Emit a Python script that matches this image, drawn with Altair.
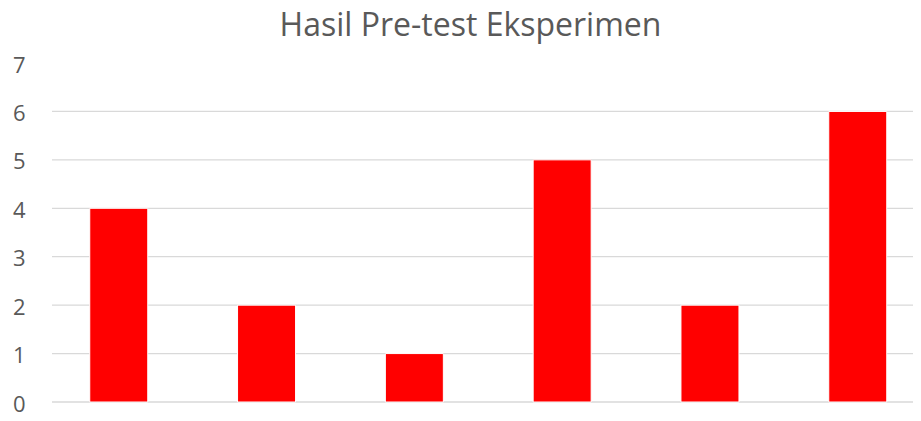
import altair as alt
import pandas as pd

categories = ["1", "2", "3", "4", "5", "6"]
values = [4, 2, 1, 5, 2, 6]
grid_levels = [0, 1, 2, 3, 4, 5, 6]
tick_values = [0, 1, 2, 3, 4, 5, 6, 7]

bars_df = pd.DataFrame({"cat": categories, "value": values})
grid_df = pd.DataFrame({"v": grid_levels})

yscale = alt.Scale(domain=[0, 7], nice=False)
yaxis = alt.Axis(values=tick_values, grid=False, domain=False, ticks=False,
                 labelPadding=27, labelFontSize=22, labelColor="#595959",
                 labelFont="Open Sans", labelOffset=2, title=None)

grid = alt.Chart(grid_df).mark_rule(color="#d9d9d9", strokeWidth=1.3).encode(
    y=alt.Y("v:Q", scale=yscale, axis=yaxis)
)

bars = alt.Chart(bars_df).mark_bar(color="#ff0000", stroke="white", strokeWidth=1).encode(
    x=alt.X("cat:N", sort=None, axis=None,
            scale=alt.Scale(paddingInner=0.6076, paddingOuter=0.2165, align=0.59)),
    y=alt.Y("value:Q", scale=yscale, axis=yaxis),
)

chart = alt.layer(grid, bars).properties(
    width=861,
    height=339,
    autosize=alt.AutoSizeParams(type="none"),
    padding={"left": 44, "top": 55, "right": 0, "bottom": 11},
    title=alt.TitleParams("Hasil Pre-test Eksperimen", fontSize=32, font="Open Sans",
                          fontWeight="normal", color="#595959", anchor="middle",
                          dx=-12, offset=11),
).configure_view(stroke=None)

chart.save("out.html", embed_options={"renderer": "svg", "actions": False})
